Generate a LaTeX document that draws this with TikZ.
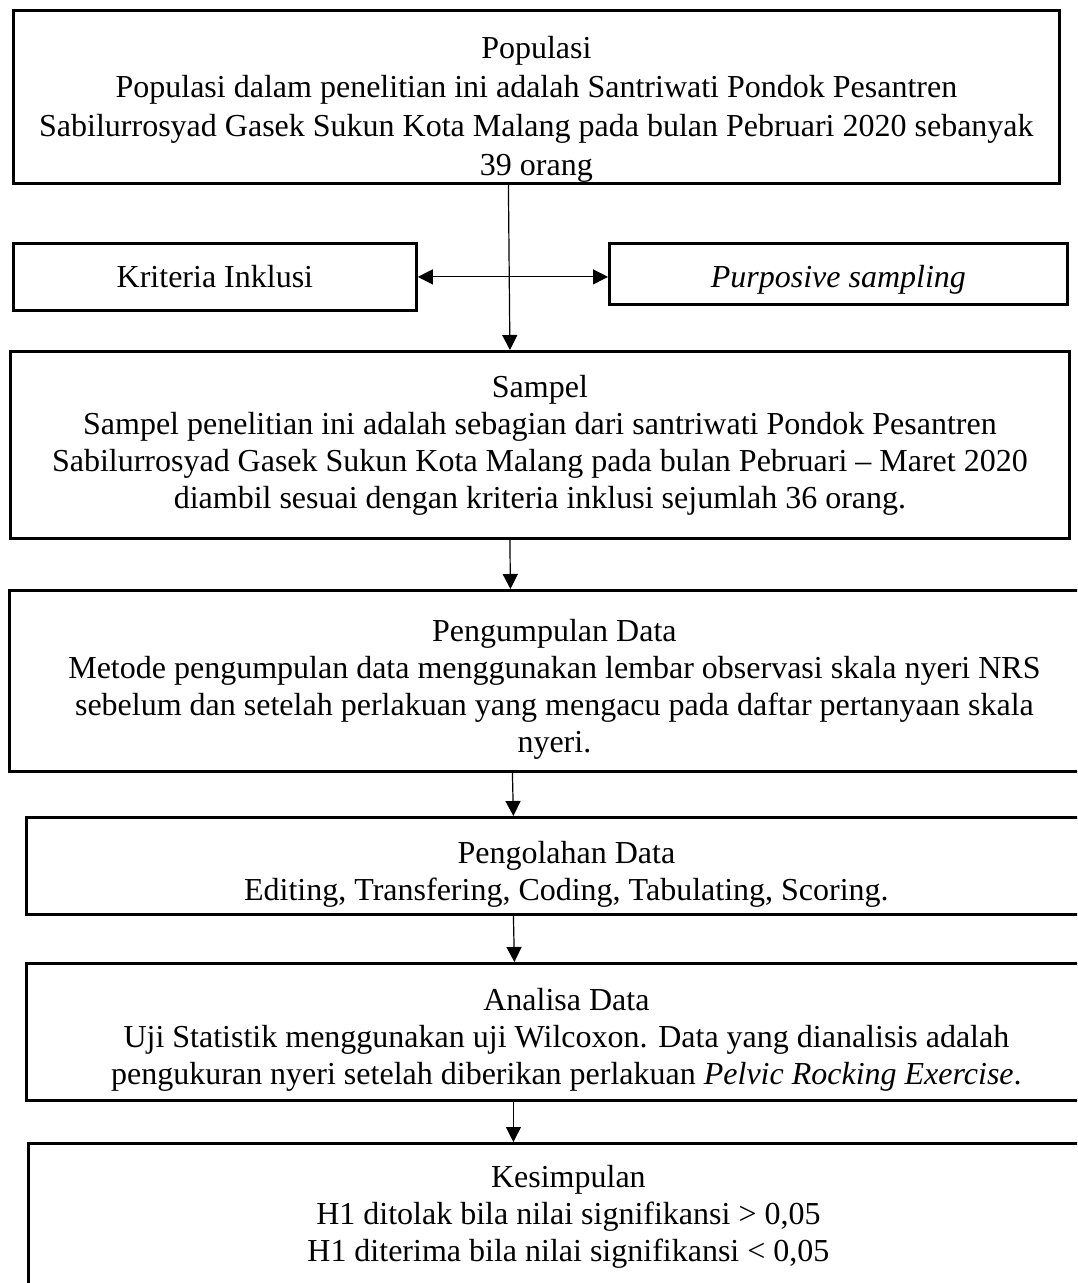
\documentclass[tikz,border=0pt]{standalone}
\usepackage{fontspec}
\setmainfont{Liberation Serif}
\usetikzlibrary{arrows.meta}

\begin{document}
\begin{tikzpicture}[x=0.5pt,y=-0.5pt,
    box/.style={draw, line width=1.4pt, align=center, inner sep=0pt, anchor=north west,
        font=\fontsize{16}{18.5}\selectfont},
    arr/.style={line width=0.6pt, -{Triangle[length=7.5pt,width=7.5pt]}},
    dbl/.style={line width=0.6pt, {Triangle[length=7.5pt,width=7.5pt]}-{Triangle[length=7.5pt,width=7.5pt]}}]
    \clip (0,0) rectangle (1077,1283);

    % Populasi
    \node[box, font=\fontsize{16}{19.5}\selectfont, minimum width=523pt, minimum height=86.5pt] (pop) at (12,9)
        {\rule{0pt}{24pt}Populasi\\Populasi dalam penelitian ini adalah Santriwati Pondok Pesantren\\
         Sabilurrosyad Gasek Sukun Kota Malang pada bulan Pebruari 2020 sebanyak\\39 orang};

    % Kriteria and sampling
    \node[box, minimum width=201.5pt, minimum height=33.5pt] (krit) at (12,242) {Kriteria Inklusi};
    \node[box, minimum width=229pt, minimum height=30.5pt] (purp) at (608,242) {\rule{0pt}{17pt}\textit{Purposive sampling}};

    % Sampel
    \node[box, minimum width=529.5pt, minimum height=93.5pt] (samp) at (9,350)
        {Sampel\\Sampel penelitian ini adalah sebagian dari santriwati Pondok Pesantren\\
         Sabilurrosyad Gasek Sukun Kota Malang pada bulan Pebruari -- Maret 2020\\
         diambil sesuai dengan kriteria inklusi sejumlah 36 orang.};

    % Pengumpulan Data
    \node[box, minimum width=545pt, minimum height=90.5pt] (kumpul) at (8,589)
        {\rule{0pt}{19.5pt}Pengumpulan Data\\Metode pengumpulan data menggunakan lembar observasi skala nyeri NRS\\
         sebelum dan setelah perlakuan yang mengacu pada daftar pertanyaan skala\\nyeri.};

    % Pengolahan Data
    \node[box, minimum width=540pt, minimum height=48.5pt] (olah) at (25,816)
        {\rule{0pt}{19.5pt}Pengolahan Data\\Editing, Transfering, Coding, Tabulating, Scoring.};

    % Analisa Data
    \node[box, minimum width=540pt, minimum height=68.5pt] (anal) at (25,962)
        {\rule{0pt}{19.5pt}Analisa Data\\Uji Statistik menggunakan uji Wilcoxon. Data yang dianalisis adalah\\
         pengukuran nyeri setelah diberikan perlakuan \textit{Pelvic Rocking Exercise}.};

    % Kesimpulan
    \node[box, minimum width=540pt, minimum height=100pt] (simpul) at (27,1142)
        {Kesimpulan\\H1 ditolak bila nilai signifikansi > 0,05\\
         H1 diterima bila nilai signifikansi < 0,05\\[12pt]\mbox{}};

    % Arrows
    \draw[arr] ([xshift=-14pt]pop.south) -- ([xshift=-15pt]samp.north);
    \draw[dbl] (krit.east) -- (krit.east -| purp.west);
    \draw[arr] ([xshift=-15pt]samp.south) -- ([xshift=-22pt]kumpul.north);
    \draw[arr] ([xshift=-21pt]kumpul.south) -- ([xshift=-26.5pt]olah.north);
    \draw[arr] ([xshift=-26.5pt]olah.south) -- ([xshift=-26pt]anal.north);
    \draw[arr] ([xshift=-26.5pt]anal.south) -- ([xshift=-27.5pt]simpul.north);
\end{tikzpicture}
\end{document}
